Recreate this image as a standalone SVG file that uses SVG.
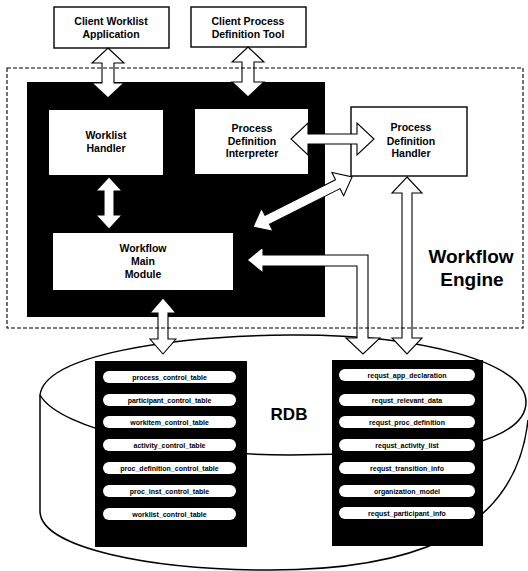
<svg xmlns="http://www.w3.org/2000/svg" width="528" height="571" viewBox="0 0 528 571">
<style>
.box{fill:#fff;stroke:#000;stroke-width:1.4}
.lbl{font-family:"Liberation Sans",Arial,sans-serif;font-weight:bold;font-size:10.5px;text-anchor:middle;fill:#000}
.pill{fill:#fff;stroke:none}
.pt{font-family:"Liberation Sans",Arial,sans-serif;font-weight:bold;font-size:7px;text-anchor:middle;fill:#000}
.arr{fill:#fff;stroke:#000;stroke-width:1.1;stroke-linejoin:miter}
.big{font-family:"Liberation Sans",Arial,sans-serif;font-weight:bold;font-size:19px;text-anchor:middle;fill:#000}
</style>
<rect width="528" height="571" fill="#fff"/>
<g id="engine-core"><rect x="27" y="82" width="298" height="235" fill="#000"/></g>
<g id="client-worklist"><rect class="box" x="54" y="7" width="115" height="41"/><text class="lbl" x="111" y="25">Client Worklist</text><text class="lbl" x="111" y="38">Application</text></g>
<g id="client-process"><rect class="box" x="191" y="7" width="115" height="40"/><text class="lbl" x="248" y="25">Client Process</text><text class="lbl" x="248" y="38">Definition Tool</text></g>
<g id="worklist-handler"><rect x="49" y="110" width="114" height="65" fill="#fff"/><text class="lbl" x="106" y="139">Worklist</text><text class="lbl" x="106" y="152">Handler</text></g>
<g id="pd-interpreter"><rect x="195" y="109" width="113" height="65" fill="#fff"/><text class="lbl" x="252" y="132">Process</text><text class="lbl" x="252" y="145">Definition</text><text class="lbl" x="252" y="157">Interpreter</text></g>
<g id="pd-handler"><rect class="box" x="351" y="107" width="116" height="69" stroke-width="1.1"/><text class="lbl" x="411" y="131">Process</text><text class="lbl" x="411" y="145">Definition</text><text class="lbl" x="411" y="157">Handler</text></g>
<g id="main-module"><rect x="53" y="233" width="180" height="57" fill="#fff"/><text class="lbl" x="143" y="252">Workflow</text><text class="lbl" x="143" y="265">Main</text><text class="lbl" x="143" y="278">Module</text></g>
<g id="rdb">
<path d="M40,395 L40,512 C42,548 150,570 270,570 C400,570 515,540 528,420" fill="none" stroke="#000" stroke-width="1.5"/>
<path d="M40,395 C45,355 170,336 290,335 C420,334 526,362 526,402 C526,430 480,450 400,453 L290,455 C180,455 60,430 40,395 Z" fill="none" stroke="#000" stroke-width="1.5"/>
<text class="big" x="289" y="420" style="font-size:17px">RDB</text>
</g>
<g id="control-tables">
<rect x="95" y="361" width="152" height="186" fill="#000"/>
<rect class="pill" x="103" y="371" width="133" height="12" rx="6"/><text class="pt" x="169.5" y="379.5">process_control_table</text>
<rect class="pill" x="103" y="394" width="133" height="12" rx="6"/><text class="pt" x="169.5" y="402.5">participant_control_table</text>
<rect class="pill" x="103" y="416" width="133" height="12" rx="6"/><text class="pt" x="169.5" y="424.5">workitem_control_table</text>
<rect class="pill" x="103" y="439" width="133" height="12" rx="6"/><text class="pt" x="169.5" y="447.5">activity_control_table</text>
<rect class="pill" x="103" y="462" width="133" height="12" rx="6"/><text class="pt" x="169.5" y="470.5">proc_definition_control_table</text>
<rect class="pill" x="103" y="485" width="133" height="12" rx="6"/><text class="pt" x="169.5" y="493.5">proc_inst_control_table</text>
<rect class="pill" x="103" y="508" width="133" height="12" rx="6"/><text class="pt" x="169.5" y="516.5">worklist_control_table</text>
</g>
<g id="request-tables">
<rect x="332" y="360" width="151" height="186" fill="#000"/>
<rect class="pill" x="339" y="369" width="136" height="12" rx="6"/><text class="pt" x="407" y="377.5">requst_app_declaration</text>
<rect class="pill" x="339" y="394" width="136" height="12" rx="6"/><text class="pt" x="407" y="402.5">requst_relevant_data</text>
<rect class="pill" x="339" y="416" width="136" height="12" rx="6"/><text class="pt" x="407" y="424.5">requst_proc_definition</text>
<rect class="pill" x="339" y="439" width="136" height="12" rx="6"/><text class="pt" x="407" y="447.5">requst_activity_list</text>
<rect class="pill" x="339" y="462" width="136" height="12" rx="6"/><text class="pt" x="407" y="470.5">requst_transition_info</text>
<rect class="pill" x="339" y="485" width="136" height="12" rx="6"/><text class="pt" x="407" y="493.5">organization_model</text>
<rect class="pill" x="339" y="507" width="136" height="12" rx="6"/><text class="pt" x="407" y="515.5">requst_participant_info</text>
</g>
<g id="connectors">
<polygon class="arr" points="108,48 124,63 114,63 114,83 124,83 108,98 92,83 102,83 102,63 92,63"/>
<polygon class="arr" points="248,47 264,62 254,62 254,82 264,82 248,97 232,82 242,82 242,62 232,62"/>
<polygon class="arr" points="109,177 122,191 114,191 114,215 122,215 109,229 96,215 104,215 104,191 96,191"/>
<polygon class="arr" points="291,139 308,123 308,134 357,134 357,123 374,139 357,155 357,144 308,144 308,155"/>
<polygon class="arr" transform="translate(253,227) rotate(-26.8)" points="0,0 16,-13 16,-5 95,-5 95,-13 111,0 95,13 95,5 16,5 16,13"/>
<polygon class="arr" points="247,260 263,247 263,255 368,255 368,338 380,338 363,354 346,338 357,338 357,266 263,266 263,273"/>
<polygon class="arr" points="407,177 422,193 412,193 412,338 422,338 407,354 392,338 402,338 402,193 392,193"/>
<polygon class="arr" points="163,298 176,313 168,313 168,339 176,339 163,354 150,339 158,339 158,313 150,313"/>
</g>
<g id="workflow-engine">
<rect x="7" y="68" width="516" height="260" fill="none" stroke="#000" stroke-width="1.1" stroke-dasharray="4,2"/>
<text class="big" x="471" y="263">Workflow</text>
<text class="big" x="472" y="286">Engine</text>
</g>
</svg>
